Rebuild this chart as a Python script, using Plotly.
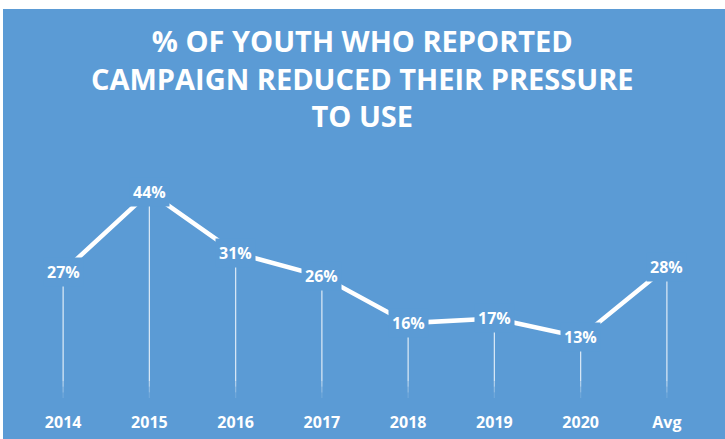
import plotly.graph_objects as go

categories = ["2014", "2015", "2016", "2017", "2018", "2019", "2020", "Avg"]
values = [27, 44, 31, 26, 16, 17, 13, 28]
labels = ["27%", "44%", "31%", "26%", "16%", "17%", "13%", "28%"]
title_lines = ["% OF YOUTH WHO REPORTED", "CAMPAIGN REDUCED THEIR PRESSURE", "TO USE"]

BLUE = "#5B9BD5"
W, H = 725, 439
L, R, T, B = 20, 15, 164, 41
pw, ph = W - L - R, H - T - B

fig = go.Figure()

# drop lines from the axis to each point, fading out toward the axis
fade = [(0.0, 1.2, 0.12), (1.2, 2.4, 0.3), (2.4, 3.6, 0.5), (3.6, None, 0.75)]
for lo, hi, alpha in fade:
    dx, dy = [], []
    for c, v in zip(categories, values):
        dx += [c, c, None]
        dy += [lo, v if hi is None else hi, None]
    fig.add_trace(go.Scatter(x=dx, y=dy, mode="lines",
                             line=dict(color=f"rgba(255,255,255,{alpha})", width=1.3),
                             hoverinfo="skip", showlegend=False))

# main line
fig.add_trace(go.Scatter(x=categories, y=values, mode="lines",
                         line=dict(color="white", width=4.5),
                         showlegend=False))

# data labels with blue box covering the line
for i, (v, t) in enumerate(zip(values, labels)):
    fig.add_annotation(x=i, y=v, xref="x", yref="y", text="<b>" + t + "</b>",
                       showarrow=False,
                       font=dict(family="Open Sans", size=16, color="white"),
                       bgcolor=BLUE, borderpad=3, xanchor="center", yanchor="middle")

# title
fig.add_annotation(x=(362.5 - L) / pw, y=(398 - 77.5) / ph, xref="paper", yref="paper",
                   text="<b>" + "<br>".join(title_lines) + "</b>", showarrow=False,
                   align="center", xanchor="center", yanchor="middle",
                   font=dict(family="Open Sans", size=29, color="white"))

# blue background panel (white border strip at top/left)
fig.add_shape(type="rect", xref="paper", yref="paper",
              x0=(3 - L) / pw, x1=(W - L + 5) / pw,
              y0=-(B + 5) / ph, y1=(H - 9 - B) / ph,
              fillcolor=BLUE, line=dict(width=0), layer="below")

fig.update_layout(
    width=W, height=H,
    margin=dict(l=L, r=R, t=T, b=B),
    paper_bgcolor="white",
    plot_bgcolor="rgba(0,0,0,0)",
    xaxis=dict(type="category", range=[-0.5, 7.5], showgrid=False, zeroline=False,
               showline=False, ticks="outside", ticklen=10, tickcolor="rgba(0,0,0,0)",
               tickfont=dict(family="Open Sans", size=16, color="white", weight="bold"),
               automargin=False, fixedrange=True),
    yaxis=dict(range=[0, 50], visible=False, showgrid=False, zeroline=False,
               automargin=False, fixedrange=True),
    showlegend=False,
)

fig.write_html("out.html")
